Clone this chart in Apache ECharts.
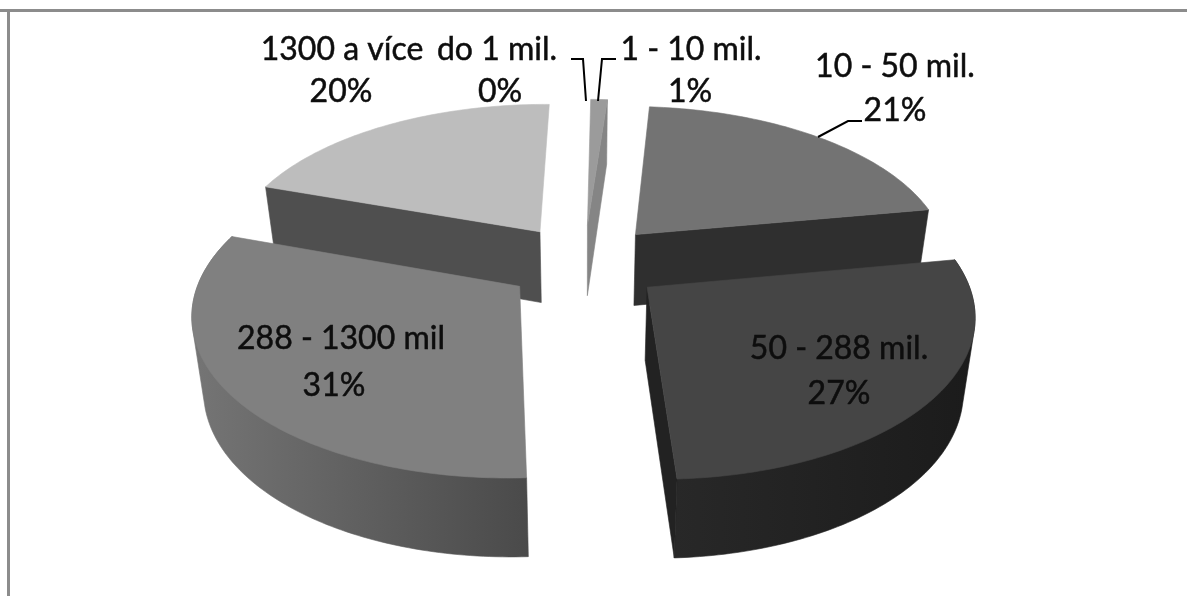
<!DOCTYPE html>
<html>
<head>
<meta charset="utf-8">
<style>html,body{margin:0;padding:0;background:#fff}#chart{width:1187px;height:596px}</style>
<script src="https://cdn.jsdelivr.net/npm/echarts@6/dist/echarts.min.js"></script>
</head>
<body>
<div id="chart"></div>
<script>
// Share of each size class, clockwise from twelve o'clock
const categories = ['1 - 10 mil.', '10 - 50 mil.', '50 - 288 mil.', '288 - 1300 mil', '1300 a více', 'do 1 mil.'];
const shares = [1, 21, 27, 31, 20, 0];

// Back slices are painted first so the front ones overlap them
const paintOrder = [5, 4, 0, 1, 3, 2];

const topColors = ['#9b9b9b', '#737373', '#454545', '#808080', '#bdbdbd', '#9b9b9b'];
const cutColors = ['#858585', '#2f2f2f', '#222222', '#4a4a4a', '#4f4f4f', '#858585'];
const wallColors = [
  ['#858585', '#858585'], ['#2f2f2f', '#2f2f2f'], ['#282828', '#1b1b1b'],
  ['#757575', '#4a4a4a'], ['#4f4f4f', '#4f4f4f'], ['#858585', '#858585']
];

// Label placement: [name x, name y, percent x, percent y]
const labelSpots = [
  [691, 50, 690, 92], [895, 67, 895, 111], [839, 349, 839, 394],
  [341, 339, 334, 386], [342, 50, 341, 92], [497, 50, 500, 92]
];
// Leader lines from a label to its slice
const leaders = [
  [[616, 59], [602, 59], [598, 101]],
  [[862, 121], [848, 121], [818, 137]],
  null, null, null,
  [[571, 59], [583, 59], [586, 101]]
];

// Perspective view of the tilted pie
const view = { cx: 584, cy: 262.5, rx: 315, ry: 155, persp: 0.15, explode: 0.25, turn: 0.8, depth: 72, taper: 0.97 };

const rad = d => d * Math.PI / 180;

function project(px, py, bottom) {
  const w = 1 + view.persp * py;
  let x = view.cx + view.rx * px / w;
  let y = view.cy - view.ry * py / w;
  if (bottom) {
    x = view.cx + (x - view.cx) * view.taper;
    y += view.depth - 6 * py;
  }
  return [x, y];
}

// Convex outline of a point set (monotone chain)
function outline(points) {
  const pts = points.slice().sort((a, b) => a[0] - b[0] || a[1] - b[1]);
  const cross = (o, a, b) => (a[0] - o[0]) * (b[1] - o[1]) - (a[1] - o[1]) * (b[0] - o[0]);
  const half = list => {
    const out = [];
    list.forEach(p => {
      while (out.length > 1 && cross(out[out.length - 2], out[out.length - 1], p) <= 0) out.pop();
      out.push(p);
    });
    out.pop();
    return out;
  };
  return half(pts).concat(half(pts.slice().reverse()));
}

const cumulative = shares.map((_, i) => shares.slice(0, i).reduce((a, b) => a + b, 0));
const seriesData = paintOrder.map(i => [i, shares[i], cumulative[i]]);

function renderSlice(params, api) {
  const idx = api.value(0);
  const share = api.value(1);
  const children = [];
  if (share > 0) {
    const a0 = view.turn + api.value(2) * 3.6;
    const a1 = a0 + share * 3.6;
    const mid = rad((a0 + a1) / 2);
    const ox = view.explode * Math.sin(mid);
    const oy = view.explode * Math.cos(mid);
    const rim = bottom => {
      const pts = [];
      const n = Math.ceil(a1 - a0);
      for (let s = 0; s <= n; s++) {
        const t = rad(a0 + (a1 - a0) * s / n);
        pts.push(project(ox + Math.sin(t), oy + Math.cos(t), bottom));
      }
      return pts;
    };
    const apexTop = project(ox, oy, false);
    const apexBottom = project(ox, oy, true);
    const rimTop = rim(false);
    const rimBottom = rim(true);
    const poly = (points, fill) => ({ type: 'polygon', shape: { points }, style: { fill, stroke: fill, lineWidth: 0.6 } });

    if (a1 > 90 && a0 < 270) {
      // Outer wall: its silhouette is the outline of both rims, the top face covers the rest
      const shade = new echarts.graphic.LinearGradient(0, 0, 1, 0, [
        { offset: 0, color: wallColors[idx][0] }, { offset: 1, color: wallColors[idx][1] }
      ]);
      children.push(poly(outline(rimTop.concat(rimBottom)), shade));
    }
    if (a1 < 180) {
      children.push(poly([apexTop, rimTop[rimTop.length - 1], rimBottom[rimBottom.length - 1], apexBottom], cutColors[idx]));
    }
    if (a0 > 180) {
      children.push(poly([apexTop, rimTop[0], rimBottom[0], apexBottom], cutColors[idx]));
    }
    children.push(poly([apexTop].concat(rimTop), topColors[idx]));
  }
  return { type: 'group', children };
}

function renderLabel(params, api) {
  const idx = api.value(0);
  const spot = labelSpots[idx];
  const font = { fontFamily: 'Lato', fontSize: 32, fill: '#0d0d0d', stroke: '#0d0d0d', lineWidth: 0.5, align: 'center', verticalAlign: 'middle' };
  const children = [
    { type: 'text', style: Object.assign({ text: categories[idx], x: spot[0], y: spot[1] }, font) },
    { type: 'text', style: Object.assign({ text: api.value(1) + '%', x: spot[2], y: spot[3] }, font) }
  ];
  if (leaders[idx]) {
    children.push({
      type: 'polyline',
      shape: { points: leaders[idx] },
      style: { stroke: '#000', lineWidth: 2, fill: null }
    });
  }
  return { type: 'group', children };
}

const chart = echarts.init(document.getElementById('chart'), null, { renderer: 'canvas' });
chart.setOption({
  animation: false,
  backgroundColor: '#fff',
  graphic: [
    { type: 'line', shape: { x1: 0, y1: 10.5, x2: 1187, y2: 10.5 }, style: { stroke: '#8c8c8c', lineWidth: 3 } },
    { type: 'line', shape: { x1: 8.5, y1: 10, x2: 8.5, y2: 596 }, style: { stroke: '#8c8c8c', lineWidth: 3 } }
  ],
  series: [
    { type: 'custom', coordinateSystem: 'none', silent: true, data: seriesData, renderItem: renderSlice, z: 2 },
    { type: 'custom', coordinateSystem: 'none', silent: true, data: seriesData, renderItem: renderLabel, z: 3 }
  ]
});
</script>
</body>
</html>
